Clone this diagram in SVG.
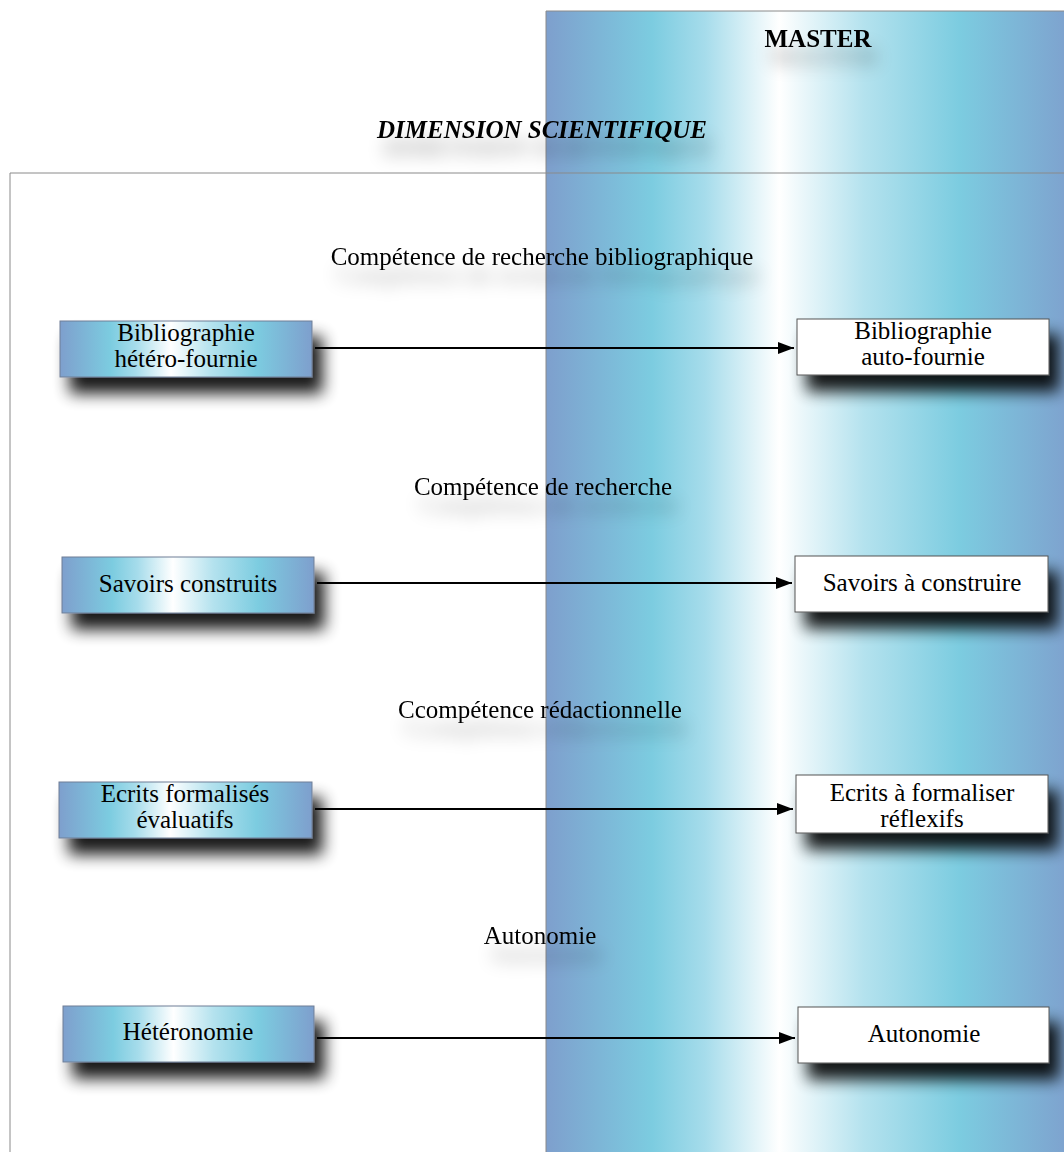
<svg xmlns="http://www.w3.org/2000/svg" width="1064" height="1152" viewBox="0 0 1064 1152">
<defs>
<linearGradient id="blueGrad" x1="0" y1="0" x2="1" y2="0">
<stop offset="0" stop-color="#7e9fcd"/>
<stop offset="0.2" stop-color="#7ccce0"/>
<stop offset="0.3" stop-color="#a6dceb"/>
<stop offset="0.44" stop-color="#ffffff"/>
<stop offset="0.6" stop-color="#b4e2ee"/>
<stop offset="0.78" stop-color="#7ccce0"/>
<stop offset="1" stop-color="#7e9fcd"/>
</linearGradient>
<filter id="boxShadow" x="-20%" y="-40%" width="150%" height="220%">
<feGaussianBlur in="SourceAlpha" stdDeviation="8"/>
<feOffset dx="10" dy="16" result="b"/>
<feComponentTransfer><feFuncA type="linear" slope="0.9"/></feComponentTransfer>
<feMerge><feMergeNode/><feMergeNode in="SourceGraphic"/></feMerge>
</filter>
<filter id="textShadow" x="-20%" y="-60%" width="140%" height="300%">
<feGaussianBlur in="SourceAlpha" stdDeviation="9"/>
<feOffset dx="6" dy="18"/>
<feComponentTransfer><feFuncA type="linear" slope="0.35"/></feComponentTransfer>
<feMerge><feMergeNode/><feMergeNode in="SourceGraphic"/></feMerge>
</filter>
<marker id="arrow" markerWidth="16" markerHeight="12" refX="16" refY="6" orient="auto" markerUnits="userSpaceOnUse">
<path d="M0,0 L16,6 L0,12 Z" fill="#000"/>
</marker>
<style>
text { font-family: "Liberation Serif", "Times New Roman", serif; font-size: 25px; fill: #000; text-anchor: middle; }
.title { font-weight: bold; }
.ital { font-weight: bold; font-style: italic; }
.lbox { fill: url(#blueGrad); stroke: #6f7f95; stroke-width: 1; }
.rbox { fill: #ffffff; stroke: #555; stroke-width: 1; }
.conn { stroke: #000; stroke-width: 2; fill: none; marker-end: url(#arrow); }
.frame { stroke: #8a8a8a; stroke-width: 1; fill: none; }
</style>
</defs>
<rect width="1064" height="1152" fill="#ffffff"/>
<g id="master-panel">
<rect x="546" y="11" width="530" height="1150" fill="url(#blueGrad)"/>
<path class="frame" d="M546,1152 V11 H1064"/>
</g>
<g id="frame">
<path class="frame" d="M10,1152 V173 H1064"/>
</g>
<g id="titles" filter="url(#textShadow)">
<text class="title" x="818" y="47">MASTER</text>
<text class="ital" x="542" y="138">DIMENSION SCIENTIFIQUE</text>
</g>
<g id="labels" filter="url(#textShadow)">
<text x="542" y="265">Compétence de recherche bibliographique</text>
<text x="543" y="495">Compétence de recherche</text>
<text x="540" y="718">Ccompétence rédactionnelle</text>
<text x="540" y="944">Autonomie</text>
</g>
<g id="connectors">
<line class="conn" x1="315" y1="348" x2="794" y2="348"/>
<line class="conn" x1="317" y1="583" x2="792" y2="583"/>
<line class="conn" x1="315" y1="809" x2="793" y2="809"/>
<line class="conn" x1="317" y1="1038" x2="795" y2="1038"/>
</g>
<g id="node-biblio-hetero">
<rect class="lbox" x="60" y="321" width="252" height="56" filter="url(#boxShadow)"/>
<text x="186" y="341">Bibliographie</text>
<text x="186" y="367">hétéro-fournie</text>
</g>
<g id="node-biblio-auto">
<rect class="rbox" x="797" y="319" width="252" height="56" filter="url(#boxShadow)"/>
<text x="923" y="339">Bibliographie</text>
<text x="923" y="365">auto-fournie</text>
</g>
<g id="node-savoirs-construits">
<rect class="lbox" x="62" y="557" width="252" height="56" filter="url(#boxShadow)"/>
<text x="188" y="592">Savoirs construits</text>
</g>
<g id="node-savoirs-a-construire">
<rect class="rbox" x="795" y="556" width="253" height="56" filter="url(#boxShadow)"/>
<text x="922" y="591">Savoirs à construire</text>
</g>
<g id="node-ecrits-evaluatifs">
<rect class="lbox" x="59" y="782" width="253" height="56" filter="url(#boxShadow)"/>
<text x="185" y="802">Ecrits formalisés</text>
<text x="185" y="828">évaluatifs</text>
</g>
<g id="node-ecrits-reflexifs">
<rect class="rbox" x="796" y="775" width="252" height="58" filter="url(#boxShadow)"/>
<text x="922" y="801">Ecrits à formaliser</text>
<text x="922" y="827">réflexifs</text>
</g>
<g id="node-heteronomie">
<rect class="lbox" x="63" y="1006" width="251" height="56" filter="url(#boxShadow)"/>
<text x="188" y="1040">Hétéronomie</text>
</g>
<g id="node-autonomie">
<rect class="rbox" x="798" y="1007" width="251" height="56" filter="url(#boxShadow)"/>
<text x="924" y="1042">Autonomie</text>
</g>
</svg>
